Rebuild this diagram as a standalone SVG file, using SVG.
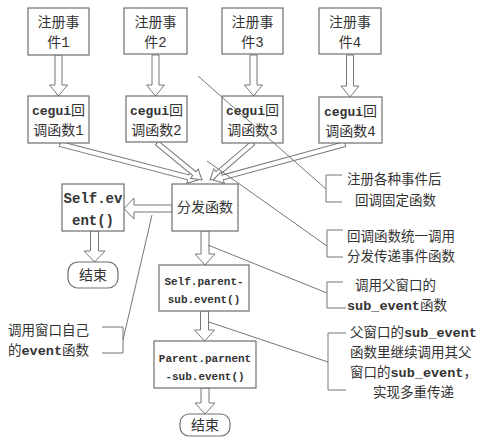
<svg xmlns="http://www.w3.org/2000/svg" width="479" height="444" viewBox="0 0 479 444">
<style>
.bx{fill:#fff;stroke:#6f6f6f;stroke-width:1.2}
.ar{fill:#fff;stroke:#777;stroke-width:1}
.ln{fill:none;stroke:#777;stroke-width:1}
text{font-family:"Liberation Mono","Noto Sans CJK SC",monospace;fill:#333}
.t{font-size:14px;text-anchor:middle}
.s{font-size:11px;text-anchor:middle;font-weight:bold}
.a{font-size:13.5px}
.b{font-weight:bold}
</style>
<rect width="479" height="444" fill="#fff"/>
<g id="connectors">
<polygon class="ar" points="55,55 62,55 62,85 67.5,85 58.5,96 49.5,85 55,85"/>
<polygon class="ar" points="152,55 159,55 159,85 164.5,85 155.5,96 146.5,85 152,85"/>
<polygon class="ar" points="250,55 257,55 257,85 262.5,85 253.5,96 244.5,85 250,85"/>
<polygon class="ar" points="346.5,55 353.5,55 353.5,86 359,86 350,97 341,86 346.5,86"/>
<g transform="translate(60,144) rotate(14.6)"><polygon class="ar" points="0,-2.5 132.6,-2.5 132.6,-6 142.6,0 132.6,6 132.6,2.5 0,2.5"/></g>
<g transform="translate(157,143) rotate(39.4)"><polygon class="ar" points="0,-2.5 48.3,-2.5 48.3,-6 58.3,0 48.3,6 48.3,2.5 0,2.5"/></g>
<g transform="translate(253,143) rotate(139.3)"><polygon class="ar" points="0,-2.5 46.7,-2.5 46.7,-6 56.7,0 46.7,6 46.7,2.5 0,2.5"/></g>
<g transform="translate(345,144) rotate(164.7)"><polygon class="ar" points="0,-2.5 126.8,-2.5 126.8,-6 136.8,0 126.8,6 126.8,2.5 0,2.5"/></g>
<polygon class="ar" points="172,205 134,205 134,198 124,208.5 134,219 134,212 172,212"/>
<polygon class="ar" points="90.5,231 98.5,231 98.5,251 105,251 94.5,262 84,251 90.5,251"/>
<polygon class="ar" points="201,231 209,231 209,254 215,254 205,265 195,254 201,254"/>
<polygon class="ar" points="200.5,311 208.5,311 208.5,330 214.5,330 204.5,341 194.5,330 200.5,330"/>
<polygon class="ar" points="201,388 209,388 209,403 215,403 205,414 195,403 201,403"/>
</g>
<g id="n1"><rect class="bx" x="28" y="8" width="61" height="47"/><text class="t" x="58.5" y="27">注册事</text><text class="t" x="58.5" y="47">件1</text></g>
<g id="n2"><rect class="bx" x="124" y="8" width="63" height="46"/><text class="t" x="155.5" y="27">注册事</text><text class="t" x="155.5" y="47">件2</text></g>
<g id="n3"><rect class="bx" x="222" y="8" width="61" height="46"/><text class="t" x="252.5" y="27">注册事</text><text class="t" x="252.5" y="47">件3</text></g>
<g id="n4"><rect class="bx" x="319" y="8" width="62" height="46"/><text class="t" x="350" y="27">注册事</text><text class="t" x="350" y="47">件4</text></g>
<g id="c1"><rect class="bx" x="28" y="96" width="61" height="47"/><text class="t" x="58.5" y="115"><tspan class="b" font-size="13">cegui</tspan>回</text><text class="t" x="58.5" y="135">调函数1</text></g>
<g id="c2"><rect class="bx" x="126" y="96" width="61" height="46"/><text class="t" x="156.5" y="115"><tspan class="b" font-size="13">cegui</tspan>回</text><text class="t" x="156.5" y="135">调函数2</text></g>
<g id="c3"><rect class="bx" x="222" y="96" width="61" height="47"/><text class="t" x="252.5" y="115"><tspan class="b" font-size="13">cegui</tspan>回</text><text class="t" x="252.5" y="135">调函数3</text></g>
<g id="c4"><rect class="bx" x="319" y="97" width="63" height="46"/><text class="t" x="350.5" y="116"><tspan class="b" font-size="13">cegui</tspan>回</text><text class="t" x="350.5" y="136">调函数4</text></g>
<g id="dispatch"><rect class="bx" x="172" y="184" width="66" height="47"/><text class="t" x="205" y="212">分发函数</text></g>
<g id="selfevent"><rect class="bx" x="62" y="184" width="62" height="47"/><text class="t b" x="93" y="203" font-size="13">Self.ev</text><text class="t b" x="93" y="225" font-size="13">ent()</text></g>
<g id="end1"><rect class="bx" x="68" y="262" width="50" height="26" rx="10"/><text class="t" x="93" y="280">结束</text></g>
<g id="selfparent"><rect class="bx" x="159" y="265" width="90" height="46"/><text class="s" x="204" y="285">Self.parent-</text><text class="s" x="204" y="303">sub.event()</text></g>
<g id="parentparent"><rect class="bx" x="154" y="341" width="102" height="47"/><text class="s" x="205" y="362">Parent.parnent</text><text class="s" x="205" y="380">-sub.event()</text></g>
<g id="end2"><rect class="bx" x="180" y="414" width="50" height="22" rx="9"/><text class="t" x="205" y="430">结束</text></g>
<g id="notes">
<polyline class="ln" points="342,175 326,175 326,202 342,202"/>
<line class="ln" x1="198" y1="76" x2="326" y2="189"/>
<text class="a" x="347" y="184">注册各种事件后</text>
<text class="a" x="355" y="205">回调固定函数</text>
<polyline class="ln" points="343,230 327,230 327,257 343,257"/>
<line class="ln" x1="207" y1="161" x2="327" y2="246"/>
<text class="a" x="347" y="241">回调函数统一调用</text>
<text class="a" x="347" y="261">分发传递事件函数</text>
<polyline class="ln" points="343,282 327,282 327,308 346,308"/>
<line class="ln" x1="208" y1="245" x2="327" y2="293"/>
<text class="a" x="355" y="290">调用父窗口的</text>
<text class="a" x="347" y="310"><tspan class="b">sub_event</tspan>函数</text>
<polyline class="ln" points="346,333 328,333 328,390 346,390"/>
<line class="ln" x1="209" y1="322" x2="328" y2="362"/>
<text class="a" x="350" y="337">父窗口的<tspan class="b">sub_event</tspan></text>
<text class="a" x="350" y="357">函数里继续调用其父</text>
<text class="a" x="350" y="377">窗口的<tspan class="b">sub_event</tspan>，</text>
<text class="a" x="373" y="397">实现多重传递</text>
<polyline class="ln" points="102,327 123,327 123,353 102,353"/>
<line class="ln" x1="152" y1="215" x2="123" y2="340"/>
<text class="a" x="8" y="335">调用窗口自己</text>
<text class="a" x="8" y="355">的<tspan class="b">event</tspan>函数</text>
</g>
</svg>
